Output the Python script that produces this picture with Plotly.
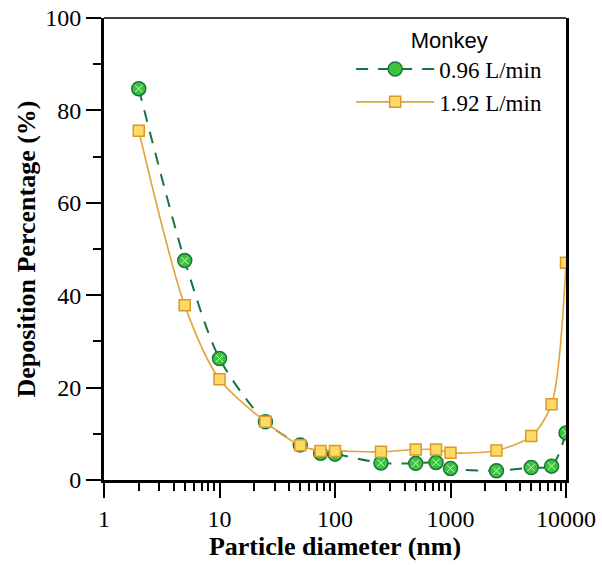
import plotly.graph_objects as go

diameter = [2, 5, 10, 25, 50, 75, 100, 250, 500, 750, 1000, 2500, 5000, 7500, 10000]
dep_096 = [84.7, 47.5, 26.3, 12.6, 7.6, 5.8, 5.6, 3.7, 3.6, 3.8, 2.5, 2.0, 2.7, 3.0, 10.2]
dep_192 = [75.6, 37.8, 21.8, 12.6, 7.5, 6.3, 6.3, 6.1, 6.6, 6.6, 5.9, 6.4, 9.5, 16.4, 47.0]

x_ticks = [1, 10, 100, 1000, 10000]
x_ticktext = ["1", "10", "100", "1000", "10000"]
x_minor = [m * d for d in [1, 10, 100, 1000] for m in range(2, 10)]

serif = "Liberation Serif"
green_line = "#18753d"
green_fill = "#3cc43c"
yellow_line = "#e0a43a"
yellow_fill = "#ffd966"
yellow_edge = "#d99a26"

fig = go.Figure()
fig.add_trace(go.Scatter(
    x=diameter, y=dep_096, mode="lines+markers", name="0.96 L/min",
    line=dict(color=green_line, width=2, dash="12px,10px", shape="spline", smoothing=0.8),
    marker=dict(symbol="circle", size=14, color=green_fill, line=dict(color=green_line, width=1.5)),
    legendgroup="a",
))
fig.add_trace(go.Scatter(
    x=diameter, y=dep_096, mode="markers", showlegend=False, hoverinfo="skip",
    marker=dict(symbol="x-thin-open", size=7, color="#c8f8c8", line=dict(color="#c8f8c8", width=1)),
    legendgroup="a",
))
fig.add_trace(go.Scatter(
    x=diameter, y=dep_192, mode="lines+markers", name="1.92 L/min",
    line=dict(color=yellow_line, width=1.6, shape="spline", smoothing=0.8),
    marker=dict(symbol="square", size=11, color=yellow_fill, line=dict(color=yellow_edge, width=1.5)),
))

# thin top frame line
fig.add_shape(type="line", xref="paper", yref="paper", x0=0, x1=1, y0=1, y1=1,
              line=dict(color="black", width=1.5))

fig.update_layout(
    width=602, height=565,
    margin=dict(l=104, r=36, t=18, b=85),
    paper_bgcolor="white", plot_bgcolor="white",
    font=dict(family=serif, size=24, color="black"),
    legend=dict(
        x=0.535, y=0.998, xanchor="left", yanchor="top",
        bgcolor="rgba(0,0,0,0)",
        title=dict(text="Monkey", side="top center",
                   font=dict(family="Liberation Sans", size=22, color="black")),
        font=dict(family=serif, size=23, color="black"),
        itemwidth=78, tracegroupgap=0,
    ),
    xaxis=dict(
        type="log", range=[0, 4], automargin=False,
        tickmode="array", tickvals=x_ticks, ticktext=x_ticktext,
        ticks="outside", ticklen=15, tickwidth=2, tickcolor="black",
        minor=dict(tickmode="array", tickvals=x_minor, ticks="outside",
                   ticklen=8, tickwidth=2, tickcolor="black"),
        showline=True, linewidth=3, linecolor="black", mirror=False,
        showgrid=False, zeroline=False,
        tickfont=dict(family=serif, size=24),
        title=dict(text="<b>Particle diameter (nm)</b>", font=dict(family=serif, size=26), standoff=3),
    ),
    yaxis=dict(
        range=[0, 100], automargin=False,
        tickmode="array", tickvals=[0, 20, 40, 60, 80, 100],
        ticks="outside", ticklen=15, tickwidth=2, tickcolor="black",
        minor=dict(tickmode="array", tickvals=[10, 30, 50, 70, 90], ticks="outside",
                   ticklen=8, tickwidth=2, tickcolor="black"),
        showline=True, linewidth=3, linecolor="black", mirror=True,
        showgrid=False, zeroline=False,
        tickfont=dict(family=serif, size=24),
        title=dict(text="<b>Deposition Percentage (%)</b>", font=dict(family=serif, size=26), standoff=3),
    ),
)

fig.write_html("out.html")
